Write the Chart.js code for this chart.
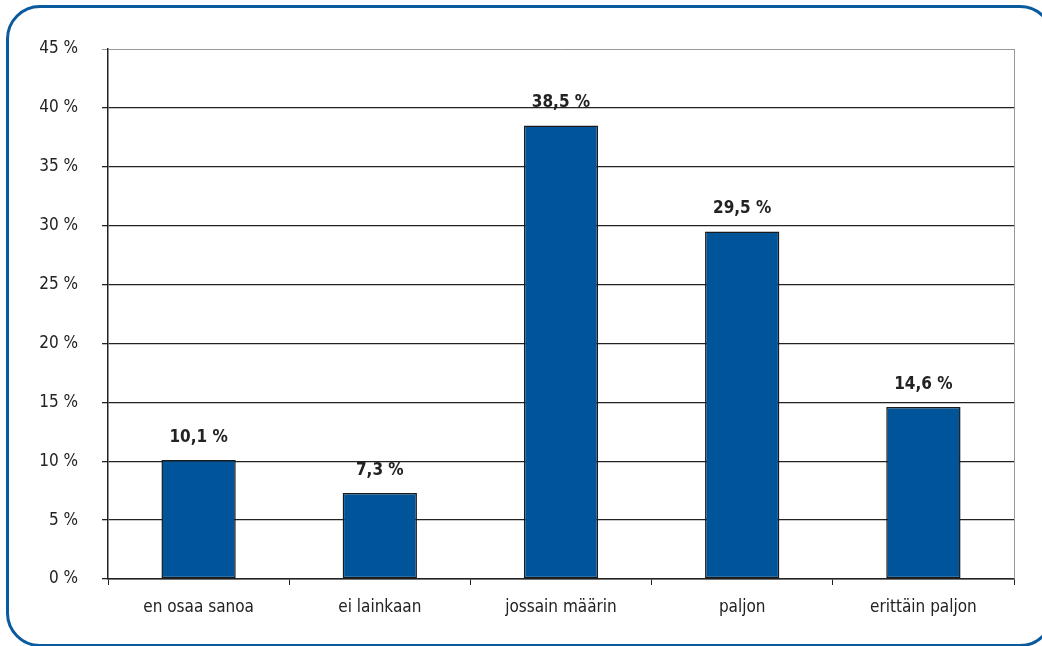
<!DOCTYPE html>
<html>
<head>
<meta charset="utf-8">
<script src="https://cdn.jsdelivr.net/npm/chart.js@4"></script>
<style>
  html, body { margin: 0; padding: 0; background: #fff; }
  #wrap { position: relative; width: 1042px; height: 646px; overflow: hidden; }
  #frame { position: absolute; left: 6px; top: 5px; width: 1048px; height: 642px;
           border: 3px solid #0a5a9e; border-radius: 34px; box-sizing: border-box; }
  canvas { position: absolute; left: 0; top: 0; }
</style>
</head>
<body>
<div id="wrap">
  <div id="frame"></div>
  <canvas id="myChart" width="1042" height="646"></canvas>
</div>
<script>
const categories = ['en osaa sanoa', 'ei lainkaan', 'jossain määrin', 'paljon', 'erittäin paljon'];
const values = [10.1, 7.3, 38.5, 29.5, 14.6];
const yTicks = [0, 5, 10, 15, 20, 25, 30, 35, 40, 45];

const FONT = "'Liberation Sans Narrow', 'DejaVu Sans Condensed', 'Roboto Condensed', sans-serif";

// value labels above bars + grey right border
const labelsPlugin = {
    id: 'labels',
    afterDatasetsDraw(chart) {
        const c = chart.ctx;
        const meta = chart.getDatasetMeta(0);
        c.save();
        c.font = 'bold 17px ' + FONT;
        c.fillStyle = '#222';
        c.textAlign = 'center';
        c.textBaseline = 'bottom';
        meta.data.forEach((bar, i) => {
            c.fillText(values[i].toFixed(1).replace('.', ',') + ' %', bar.x, bar.y - 14);
        });
        const a = chart.chartArea;
        c.strokeStyle = '#999';
        c.lineWidth = 1;
        c.beginPath();
        c.moveTo(a.right + 0.5, a.top);
        c.lineTo(a.right + 0.5, a.bottom);
        c.stroke();
        c.restore();
    }
};

new Chart(document.getElementById('myChart'), {
    type: 'bar',
    data: {
        labels: categories,
        datasets: [{
            data: values,
            backgroundColor: '#005499',
            borderColor: '#1a1a1a',
            borderWidth: 1.5,
            borderSkipped: false,
            categoryPercentage: 1,
            barPercentage: 0.41
        }]
    },
    options: {
        responsive: false,
        animation: false,
        layout: { padding: { top: 49, right: 28, bottom: 10, left: 0 } },
        plugins: { legend: { display: false }, tooltip: { enabled: false } },
        scales: {
            x: {
                grid: { display: true, drawOnChartArea: false, offset: true, tickLength: 6, color: '#222' },
                border: { color: '#222', width: 1.5 },
                ticks: { color: '#222', font: { family: FONT, size: 17 }, padding: 12 },
                afterFit(s) { s.height = 57; }
            },
            y: {
                min: 0,
                max: 45,
                afterBuildTicks(s) { s.ticks = yTicks.map(v => ({ value: v })); },
                grid: {
                    color: ctx => ctx.tick && ctx.tick.value === 45 ? '#999' : '#222',
                    lineWidth: ctx => ctx.tick && ctx.tick.value === 45 ? 1 : 1.3,
                    tickLength: 6
                },
                border: { color: '#222', width: 1.5 },
                ticks: {
                    color: '#222',
                    font: { family: FONT, size: 17 },
                    padding: 24,
                    callback: v => v + ' %'
                },
                afterFit(s) { s.width = 108; }
            }
        }
    },
    plugins: [labelsPlugin]
});
</script>
</body>
</html>
